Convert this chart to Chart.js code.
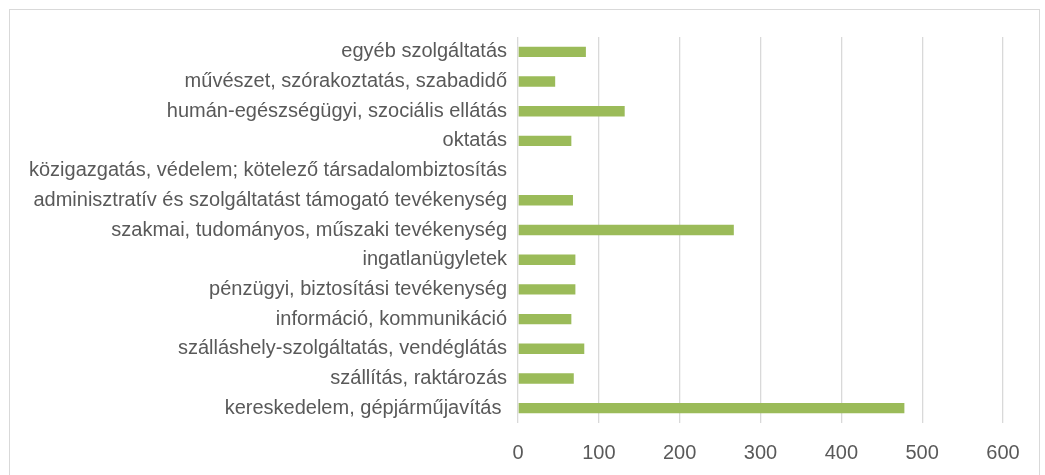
<!DOCTYPE html>
<html>
<head>
<meta charset="utf-8">
<script src="https://cdn.jsdelivr.net/npm/chart.js@4"></script>
<style>
  html, body { margin: 0; padding: 0; background: #fff; }
  #wrap { position: relative; width: 1045px; height: 475px; overflow: hidden; }
  #frame { position: absolute; left: 9px; top: 9px; width: 1031px; height: 500px; border: 1px solid #d9d9d9; box-sizing: border-box; }
  canvas { position: absolute; left: 0; top: 0; }
</style>
</head>
<body>
<div id="wrap">
  <div id="frame"></div>
  <canvas id="chart" width="1045" height="475"></canvas>
</div>
<script>
const categories = [
  "egyéb szolgáltatás",
  "művészet, szórakoztatás, szabadidő",
  "humán-egészségügyi, szociális ellátás",
  "oktatás",
  "közigazgatás, védelem; kötelező társadalombiztosítás",
  "adminisztratív és szolgáltatást támogató tevékenység",
  "szakmai, tudományos, műszaki tevékenység",
  "ingatlanügyletek",
  "pénzügyi, biztosítási tevékenység",
  "információ, kommunikáció",
  "szálláshely-szolgáltatás, vendéglátás",
  "szállítás, raktározás",
  "kereskedelem, gépjárműjavítás "
];
const values = [84, 46, 132, 66, 0, 68, 267, 71, 71, 66, 82, 69, 478];
const xTicks = [0, 100, 200, 300, 400, 500, 600];

const font = { family: "'Liberation Sans', Arial, sans-serif", size: 20 };
const textColor = "#595959";
const gridColor = "#d9d9d9";

const ctx = document.getElementById("chart").getContext("2d");
new Chart(ctx, {
  type: "bar",
  data: {
    labels: categories,
    datasets: [{
      data: values,
      backgroundColor: "#9bbb59",
      borderWidth: 0,
      categoryPercentage: 1,
      barPercentage: 0.35
    }]
  },
  options: {
    indexAxis: "y",
    responsive: false,
    animation: false,
    layout: { padding: { top: 37, right: 42, bottom: 0, left: 0 } },
    plugins: { legend: { display: false }, tooltip: { enabled: false } },
    scales: {
      x: {
        min: xTicks[0],
        max: xTicks[xTicks.length - 1],
        afterBuildTicks: (axis) => { axis.ticks = xTicks.map(v => ({ value: v })); },
        afterFit: (axis) => { axis.height = 52; },
        grid: { color: gridColor, lineWidth: 1.3, drawTicks: false },
        border: { display: false },
        ticks: { color: textColor, font: font, padding: 18, maxRotation: 0 }
      },
      y: {
        afterFit: (axis) => { axis.width = 518; },
        grid: { display: false, drawTicks: false },
        border: { display: false },
        ticks: { color: textColor, font: font, padding: 11, autoSkip: false }
      }
    }
  }
});
</script>
</body>
</html>
